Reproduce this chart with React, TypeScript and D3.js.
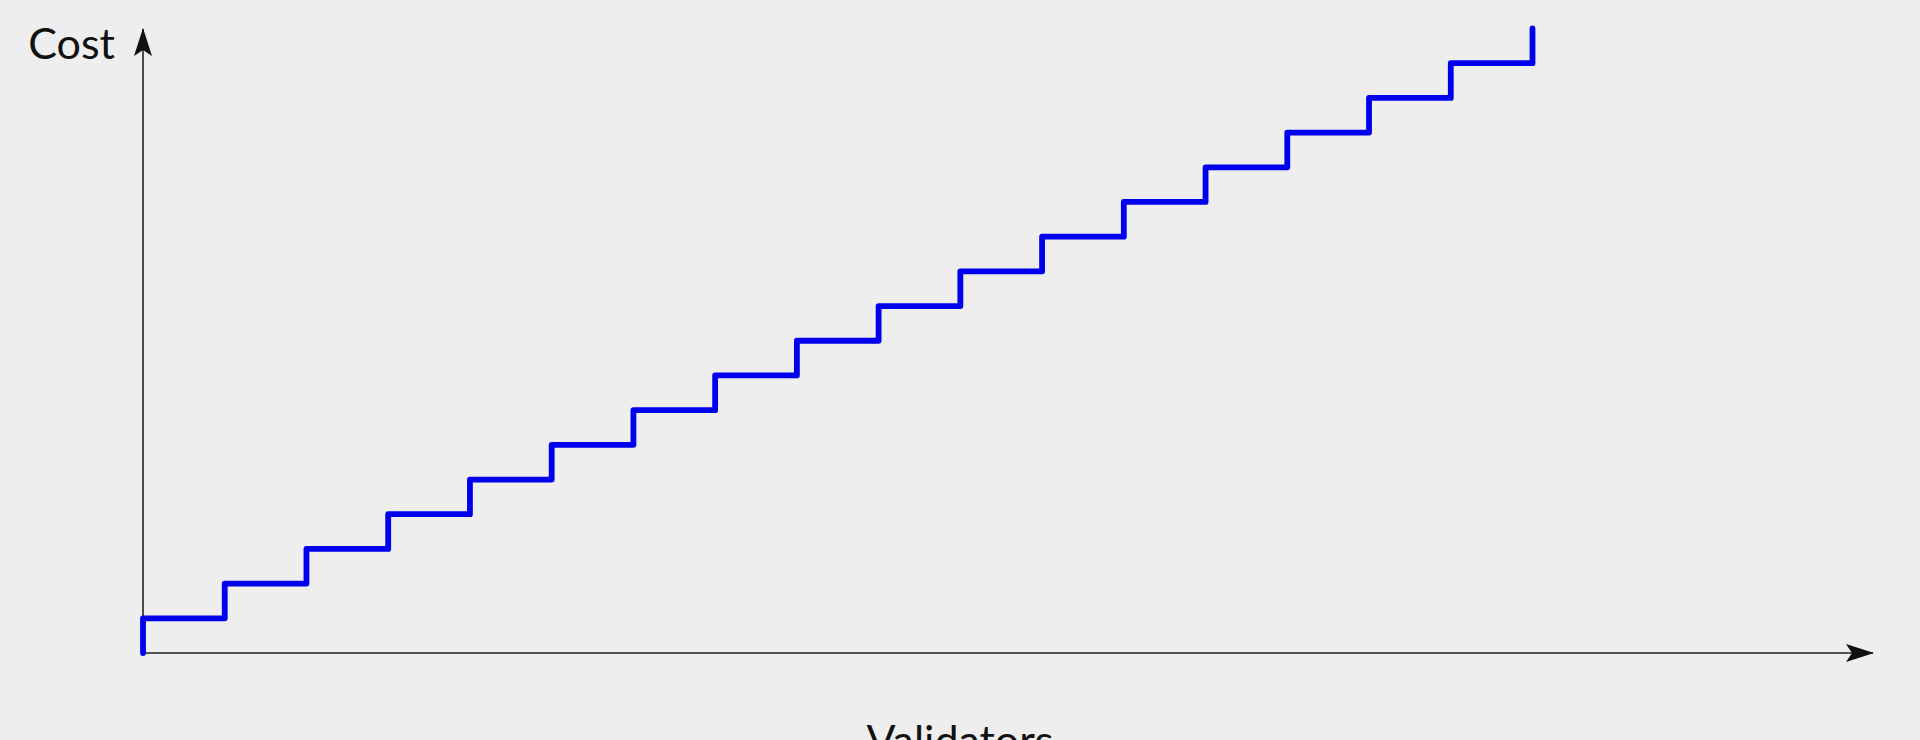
import { useEffect, useRef } from 'react';
import * as d3 from 'd3';

// step points of the cost line (validator count, cost level)
const validators = [0, 0, 1, 2, 3, 4, 5, 6, 7, 8, 9, 10, 11, 12, 13, 14, 15, 16, 17];
const cost = [0, 1, 2, 3, 4, 5, 6, 7, 8, 9, 10, 11, 12, 13, 14, 15, 16, 17, 18];

const xLabel = 'Validators';
const yLabel = 'Cost';

const width = 1920;
const height = 740;

const App = () => {
    const chartRef = useRef<SVGSVGElement | null>(null);

    useEffect(() => {
        const svg = d3.select(chartRef.current);
        svg.selectAll('*').remove();

        const originX = 143;
        const originY = 653;

        const xScale = d3.scaleLinear().domain([0, 17]).range([originX, 1532.5]);
        const yScale = d3.scaleLinear().domain([0, 18]).range([originY, 28.5]);

        svg.append('rect')
            .attr('width', width)
            .attr('height', height)
            .attr('fill', '#eeeeee');

        const defs = svg.append('defs');
        defs.append('marker')
            .attr('id', 'arrow')
            .attr('viewBox', '0 0 28 18')
            .attr('refX', 27)
            .attr('refY', 9)
            .attr('markerWidth', 28)
            .attr('markerHeight', 18)
            .attr('markerUnits', 'userSpaceOnUse')
            .attr('orient', 'auto')
            .append('path')
            .attr('d', 'M0,0 L28,9 L0,18 L6,9 Z')
            .attr('fill', '#111');

        // axes
        svg.append('line')
            .attr('x1', originX).attr('y1', originY)
            .attr('x2', 1873).attr('y2', originY)
            .attr('stroke', '#222')
            .attr('stroke-width', 1.6)
            .attr('marker-end', 'url(#arrow)');

        svg.append('line')
            .attr('x1', originX).attr('y1', originY)
            .attr('x2', originX).attr('y2', 29)
            .attr('stroke', '#222')
            .attr('stroke-width', 1.6)
            .attr('marker-end', 'url(#arrow)');

        const points: [number, number][] = validators.map((v, i) => [v, cost[i]]);

        svg.append('path')
            .datum(points)
            .attr('fill', 'none')
            .attr('stroke', '#0000ee')
            .attr('stroke-width', 5.8)
            .attr('stroke-linecap', 'round')
            .attr('stroke-linejoin', 'round')
            .attr('d', d3.line<[number, number]>()
                .x(d => xScale(d[0]))
                .y(d => yScale(d[1]))
                .curve(d3.curveStepAfter));

        svg.append('text')
            .attr('x', 115)
            .attr('y', 59)
            .attr('text-anchor', 'end')
            .style('font-family', 'Lato')
            .style('font-size', '43px')
            .attr('fill', '#111')
            .text(yLabel);

        svg.append('text')
            .attr('x', 960)
            .attr('y', 756)
            .attr('text-anchor', 'middle')
            .style('font-family', 'Lato')
            .style('font-size', '43px')
            .attr('fill', '#111')
            .text(xLabel);
    }, []);

    return (
        <svg ref={chartRef} width={width} height={height}
            style={{ position: 'absolute', left: 0, top: 0, display: 'block' }}></svg>
    );
};

export default App;
